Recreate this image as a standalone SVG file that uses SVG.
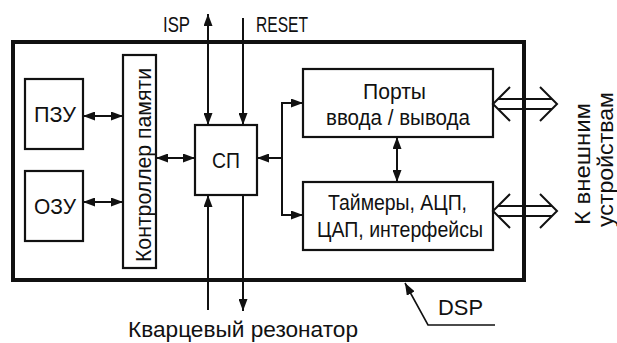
<svg xmlns="http://www.w3.org/2000/svg" width="617" height="343" viewBox="0 0 617 343">
  <style>
    .box { fill: none; stroke: #111; stroke-width: 2.2; }
    .outer { fill: none; stroke: #111; stroke-width: 4; }
    .wire { fill: none; stroke: #111; stroke-width: 2; }
    .thin { fill: none; stroke: #111; stroke-width: 1.6; }
    .bus { fill: none; stroke: #111; stroke-width: 2; stroke-linejoin: miter; }
    text { font-family: "Liberation Sans", Arial, sans-serif; font-size: 22px; fill: #111; }
  </style>
  <defs>
    <marker id="ah" viewBox="0 0 12 9" refX="12" refY="4.5" markerWidth="12" markerHeight="9" markerUnits="userSpaceOnUse" orient="auto-start-reverse">
      <path d="M0,0 L12,4.5 L0,9 z" fill="#111"/>
    </marker>
  </defs>

  <!-- DSP chip outline -->
  <g id="dsp">
    <rect class="outer" x="13" y="42" width="511" height="238"/>
  </g>

  <g id="rom">
    <rect class="box" x="25" y="79" width="58" height="70"/>
    <text x="34" y="122" textLength="42" lengthAdjust="spacingAndGlyphs">ПЗУ</text>
  </g>

  <g id="ram">
    <rect class="box" x="25" y="171" width="58" height="70"/>
    <text x="34" y="214" textLength="42" lengthAdjust="spacingAndGlyphs">ОЗУ</text>
  </g>

  <g id="memctrl">
    <rect class="box" x="123" y="55" width="33" height="213"/>
    <text transform="translate(151,262) rotate(-90)" x="0" y="0" textLength="194" lengthAdjust="spacingAndGlyphs">Контроллер памяти</text>
  </g>

  <g id="cpu">
    <rect class="box" x="195" y="125" width="62" height="70"/>
    <text x="212" y="168" textLength="28" lengthAdjust="spacingAndGlyphs">СП</text>
  </g>

  <g id="ports">
    <rect class="box" x="303" y="69" width="190" height="68"/>
    <text x="363" y="99" textLength="63" lengthAdjust="spacingAndGlyphs">Порты</text>
    <text x="326" y="125" textLength="144" lengthAdjust="spacingAndGlyphs">ввода / вывода</text>
  </g>

  <g id="periph">
    <rect class="box" x="303" y="182" width="190" height="68"/>
    <text x="328" y="210" textLength="139" lengthAdjust="spacingAndGlyphs">Таймеры, АЦП,</text>
    <text x="317" y="237" textLength="166" lengthAdjust="spacingAndGlyphs">ЦАП, интерфейсы</text>
  </g>

  <g id="labels">
    <text x="163" y="32" textLength="27" lengthAdjust="spacingAndGlyphs">ISP</text>
    <text x="256" y="32" textLength="52" lengthAdjust="spacingAndGlyphs">RESET</text>
    <text x="128" y="337" textLength="230" lengthAdjust="spacingAndGlyphs">Кварцевый резонатор</text>
    <text x="438" y="315" textLength="45" lengthAdjust="spacingAndGlyphs">DSP</text>
    <text transform="translate(590,225) rotate(-90)" x="0" y="0" textLength="122" lengthAdjust="spacingAndGlyphs">К внешним</text>
    <text transform="translate(613,227) rotate(-90)" x="0" y="0" textLength="135" lengthAdjust="spacingAndGlyphs">устройствам</text>
  </g>

  <g id="connectors">
    <!-- memories to controller -->
    <line class="wire" x1="83" y1="116" x2="123" y2="116" marker-start="url(#ah)" marker-end="url(#ah)"/>
    <line class="wire" x1="83" y1="202" x2="123" y2="202" marker-start="url(#ah)" marker-end="url(#ah)"/>
    <!-- controller to processor -->
    <line class="wire" x1="156" y1="158" x2="195" y2="158" marker-start="url(#ah)" marker-end="url(#ah)"/>
    <!-- ISP and RESET -->
    <line class="wire" x1="208" y1="14" x2="208" y2="125" marker-start="url(#ah)" marker-end="url(#ah)"/>
    <line class="wire" x1="243" y1="18" x2="243" y2="125" marker-end="url(#ah)"/>
    <!-- crystal -->
    <line class="wire" x1="208" y1="310" x2="208" y2="195" marker-end="url(#ah)"/>
    <line class="wire" x1="243" y1="195" x2="243" y2="311" marker-end="url(#ah)"/>
    <!-- processor to ports / peripherals -->
    <line class="wire" x1="282" y1="158" x2="257" y2="158" marker-end="url(#ah)"/>
    <line class="wire" x1="282" y1="102" x2="282" y2="216"/>
    <line class="wire" x1="281" y1="103" x2="303" y2="103" marker-end="url(#ah)"/>
    <line class="wire" x1="281" y1="215" x2="303" y2="215" marker-end="url(#ah)"/>
    <!-- ports to peripherals -->
    <line class="wire" x1="397" y1="137" x2="397" y2="182" marker-start="url(#ah)" marker-end="url(#ah)"/>
    <!-- external buses -->
    <path class="bus" d="M510,87 L493,104 L510,121 M540,87 L557,104 L540,121 M498,99 H552 M498,109 H552"/>
    <path class="bus" d="M510,194 L493,211 L510,228 M540,194 L557,211 L540,228 M498,206 H552 M498,216 H552"/>
    <!-- DSP leader -->
    <polyline class="thin" points="495,325 428,325 405,283" marker-end="url(#ah)"/>
  </g>
</svg>
